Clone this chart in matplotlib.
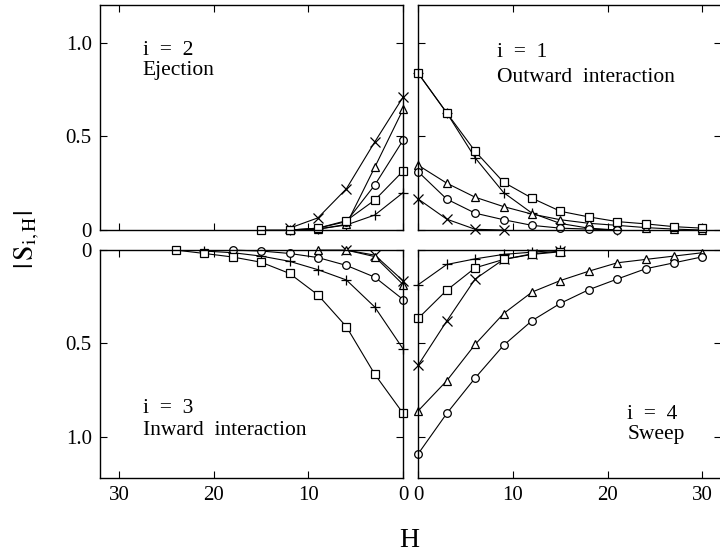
import numpy as np
import matplotlib
matplotlib.use("Agg")
import matplotlib.pyplot as plt

plt.rcParams['font.family'] = 'Liberation Serif'
plt.rcParams['mathtext.fontset'] = 'stix'

# H positions (every 3)
H = [0, 3, 6, 9, 12, 15, 18, 21, 24, 27, 30]

# i = 2, Ejection (top left)
ej_plus = [0.20, 0.08, 0.027, 0.005, 0.0]
ej_cross = [0.71, 0.47, 0.22, 0.065, 0.01]
ej_tri = [0.645, 0.335, 0.03, 0.005, 0.0]
ej_circ = [0.48, 0.24, 0.045, 0.01, 0.0]
ej_sq = [0.315, 0.16, 0.05, 0.01, 0.0, 0.0]

# i = 1, Outward interaction (top right)
out_sq = [0.835, 0.625, 0.42, 0.255, 0.17, 0.10, 0.07, 0.045, 0.033, 0.018, 0.01]
out_plus = [0.835, 0.625, 0.385, 0.20, 0.09, 0.035, 0.01, 0.0]
out_tri = [0.345, 0.25, 0.175, 0.125, 0.085, 0.055, 0.036, 0.025, 0.013, 0.005, 0.0]
out_circ = [0.31, 0.165, 0.09, 0.055, 0.025, 0.01, 0.005, 0.0]
out_cross = [0.165, 0.058, 0.004, 0.0]

# i = 3, Inward interaction (bottom left)
in_sq = [0.875, 0.665, 0.41, 0.24, 0.125, 0.065, 0.037, 0.018, 0.0]
in_plus = [0.53, 0.305, 0.16, 0.105, 0.06, 0.032, 0.014, 0.005]
in_circ = [0.265, 0.145, 0.082, 0.04, 0.018, 0.005, 0.0]
in_tri = [0.185, 0.035, 0.0, 0.0]
in_cross = [0.165, 0.027, 0.0]

# i = 4, Sweep (bottom right)
sw_plus = [0.185, 0.077, 0.047, 0.023, 0.011, 0.0]
sw_sq = [0.365, 0.215, 0.095, 0.05, 0.023, 0.009]
sw_cross = [0.615, 0.38, 0.155, 0.05, 0.02, 0.005]
sw_tri = [0.86, 0.70, 0.505, 0.34, 0.225, 0.163, 0.113, 0.068, 0.05, 0.032, 0.014]
sw_circ = [1.09, 0.875, 0.685, 0.51, 0.378, 0.285, 0.212, 0.155, 0.10, 0.068, 0.036]

yticks = [0, 0.5, 1.0]
yticklabels = ['0', '0.5', '1.0']
xticks = [0, 10, 20, 30]

fig = plt.figure(figsize=(7.2, 5.57), dpi=100)
ax_tl = fig.add_axes([0.139, 0.587, 0.421, 0.404])
ax_tr = fig.add_axes([0.581, 0.587, 0.421, 0.404])
ax_bl = fig.add_axes([0.139, 0.142, 0.421, 0.409])
ax_br = fig.add_axes([0.581, 0.142, 0.421, 0.409])

def draw(ax, series):
    for vals, m in series:
        ms = 7 if m in ('+', 'x') else 5.5
        ax.plot(H[:len(vals)], vals, color='k', lw=0.8, marker=m, ms=ms,
                mfc='white', mec='k', mew=0.9, clip_on=False)

draw(ax_tl, [(ej_plus, '+'), (ej_cross, 'x'), (ej_tri, '^'), (ej_circ, 'o'), (ej_sq, 's')])
draw(ax_tr, [(out_plus, '+'), (out_cross, 'x'), (out_tri, '^'), (out_circ, 'o'), (out_sq, 's')])
draw(ax_bl, [(in_plus, '+'), (in_cross, 'x'), (in_tri, '^'), (in_circ, 'o'), (in_sq, 's')])
draw(ax_br, [(sw_plus, '+'), (sw_cross, 'x'), (sw_tri, '^'), (sw_circ, 'o'), (sw_sq, 's')])

for ax in [ax_tl, ax_bl]:
    ax.set_xlim(32, 0)
for ax in [ax_tr, ax_br]:
    ax.set_xlim(0, 32)
for ax in [ax_tl, ax_tr]:
    ax.set_ylim(0, 1.2)
for ax in [ax_bl, ax_br]:
    ax.set_ylim(1.22, 0)

for ax in [ax_tl, ax_tr, ax_bl, ax_br]:
    ax.set_xticks(xticks)
    ax.set_yticks(yticks)
    ax.tick_params(direction='in', top=True, right=True, length=5, width=0.8,
                   labelsize=15, pad=6)
    for s in ax.spines.values():
        s.set_linewidth(1.0)
    ax.set_xticklabels([])
    ax.set_yticklabels([])

ax_tl.set_yticklabels(yticklabels)
ax_bl.set_yticklabels(yticklabels)
ax_bl.set_xticklabels([str(t) for t in xticks])
ax_br.set_xticklabels([str(t) for t in xticks])

fs = 15.5
ax_tl.text(0.14, 0.80, 'i  =  2', transform=ax_tl.transAxes, fontsize=fs, va='center')
ax_tl.text(0.14, 0.71, 'Ejection', transform=ax_tl.transAxes, fontsize=fs, va='center')
ax_tr.text(0.26, 0.79, 'i  =  1', transform=ax_tr.transAxes, fontsize=fs, va='center')
ax_tr.text(0.26, 0.68, 'Outward  interaction', transform=ax_tr.transAxes, fontsize=fs, va='center')
ax_bl.text(0.14, 0.305, 'i  =  3', transform=ax_bl.transAxes, fontsize=fs, va='center')
ax_bl.text(0.14, 0.21, 'Inward  interaction', transform=ax_bl.transAxes, fontsize=fs, va='center')
ax_br.text(0.69, 0.28, 'i  =  4', transform=ax_br.transAxes, fontsize=fs, va='center')
ax_br.text(0.69, 0.19, 'Sweep', transform=ax_br.transAxes, fontsize=fs, va='center')

fig.text(0.0375, 0.569, r'$|\,\mathrm{S}_{\mathrm{i,H}}|$', rotation=90, fontsize=20,
         ha='center', va='center')
fig.text(0.569, 0.03, 'H', fontsize=20, ha='center', va='center')

fig.savefig('out.png', dpi=100)
